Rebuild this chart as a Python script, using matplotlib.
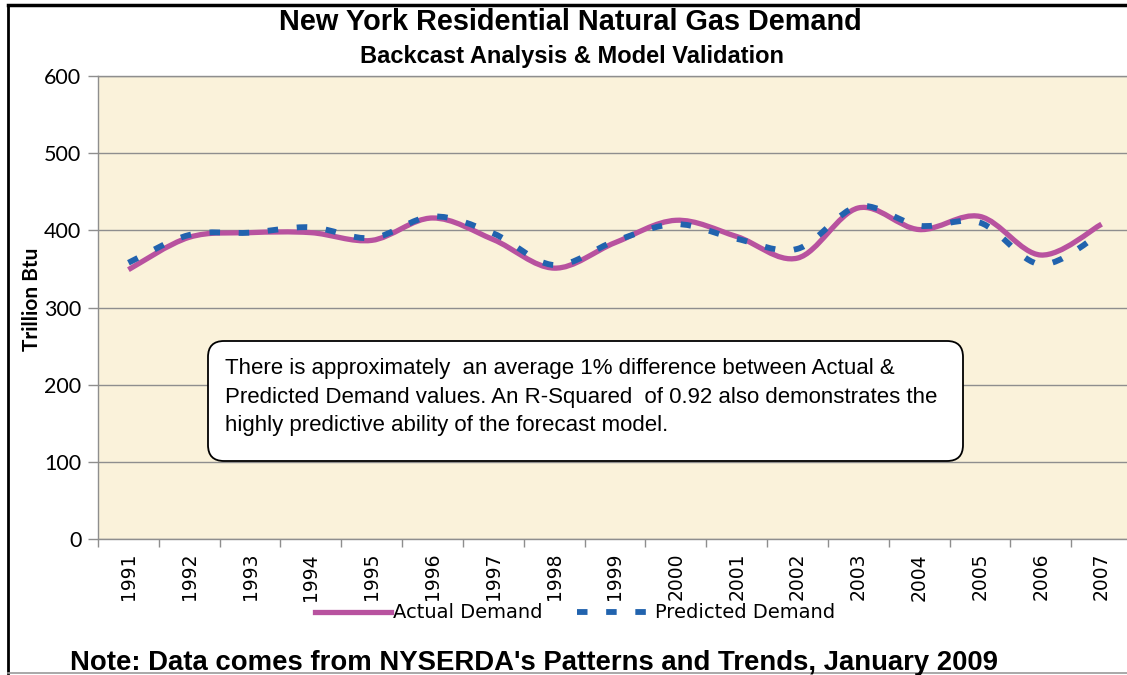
import numpy as np
import matplotlib
matplotlib.use('Agg')
import matplotlib.pyplot as plt
from matplotlib.path import Path
from matplotlib.patches import PathPatch, FancyBboxPatch
from matplotlib.lines import Line2D
from matplotlib.transforms import Affine2D

years = ['1991', '1992', '1993', '1994', '1995', '1996', '1997', '1998', '1999',
         '2000', '2001', '2002', '2003', '2004', '2005', '2006', '2007']
actual = [349, 391, 397, 397, 387, 416, 388, 351, 384, 413, 392, 364, 429, 401, 418, 368, 408]
predicted = [358, 394, 397, 404, 390, 418, 396, 355, 386, 408, 389, 376, 431, 406, 410, 356, 397]

note_lines = ['There is approximately  an average 1% difference between Actual &',
              'Predicted Demand values. An R-Squared  of 0.92 also demonstrates the',
              'highly predictive ability of the forecast model.']

actual_color = '#B8529F'
pred_color = '#2163AE'
bg_color = '#FAF2DA'
grid_color = '#8E8E8E'

W, H = 1127, 675
fig = plt.figure(figsize=(W / 100, H / 100), dpi=100)
# pixel coords with origin at top-left
px = Affine2D().scale(1 / W, -1 / H).translate(0, 1) + fig.transFigure

ax = fig.add_axes([98 / W, 136 / H, 1034 / W, 463 / H])
ax.set_facecolor(bg_color)


def smooth_path(values):
    # Excel-style smoothed line: cubic bezier through the points
    pts = np.column_stack([np.arange(len(values)), values]).astype(float)
    verts = [pts[0]]
    codes = [Path.MOVETO]
    n = len(pts)
    for i in range(n - 1):
        p0 = pts[max(i - 1, 0)]
        p1 = pts[i]
        p2 = pts[i + 1]
        p3 = pts[min(i + 2, n - 1)]
        verts += [p1 + (p2 - p0) / 6, p2 - (p3 - p1) / 6, p2]
        codes += [Path.CURVE4] * 3
    return Path(verts, codes)


ax.add_patch(PathPatch(smooth_path(actual), fill=False, edgecolor=actual_color,
                       lw=3.8, capstyle='butt', joinstyle='round', zorder=3))
ax.add_patch(PathPatch(smooth_path(predicted), fill=False, edgecolor=pred_color,
                       lw=4.2, linestyle=(0, (1.8, 3.2)), capstyle='butt', zorder=4))

ax.set_xlim(-0.5, len(years) - 0.5)
ax.set_ylim(0, 600)
ax.set_yticks(range(0, 601, 100))
ax.yaxis.grid(True, color=grid_color, lw=1.0)
ax.set_axisbelow(True)
for s in ['left', 'bottom', 'top']:
    ax.spines[s].set_color(grid_color)
    ax.spines[s].set_linewidth(1.0)
ax.spines['right'].set_visible(False)
ax.tick_params(axis='y', length=7, color=grid_color, width=1, pad=5,
               labelsize=15.5, labelfontfamily='Lato')

ax.set_xticks(range(len(years)))
ax.set_xticklabels(years, rotation=90, fontsize=13.5, family='DejaVu Sans')
ax.set_xticks(np.arange(-0.5, len(years), 1), minor=True)
ax.tick_params(axis='x', which='major', length=0, pad=10)
ax.tick_params(axis='x', which='minor', length=6, color=grid_color, width=1)

ax.set_ylabel('Trillion Btu', fontsize=15, fontweight='bold', family='Lato')
ax.yaxis.set_label_coords(-0.054, 0.517)

fig.text(570, 30, 'New York Residential Natural Gas Demand', transform=px,
         ha='center', va='baseline', fontsize=20.8, fontweight='bold', family='Liberation Sans')
fig.text(572, 63, 'Backcast Analysis & Model Validation', transform=px,
         ha='center', va='baseline', fontsize=17, fontweight='bold', family='Liberation Sans')

box = FancyBboxPatch((208, 341), 755, 120, boxstyle='round,pad=0,rounding_size=16',
                     transform=px, facecolor='white', edgecolor='black', lw=1.3, zorder=5)
fig.add_artist(box)
for k, line in enumerate(note_lines):
    fig.text(225, 374 + 28.5 * k, line, transform=px, ha='left', va='baseline',
             fontsize=16, family='Liberation Sans', zorder=6)

handles = [Line2D([], [], color=actual_color, lw=3.8),
           Line2D([], [], color=pred_color, lw=4.2, linestyle=(0, (1.8, 3.2)))]
fig.legend(handles, ['Actual Demand', 'Predicted Demand'], loc='center',
           bbox_to_anchor=(575 / W, 1 - 613 / H), ncol=2, frameon=False,
           prop={'family': 'DejaVu Sans', 'size': 14}, handlelength=3.9,
           handletextpad=0.1, columnspacing=1.8, borderpad=0)

fig.text(70, 670, "Note: Data comes from NYSERDA's Patterns and Trends, January 2009",
         transform=px, ha='left', va='baseline', fontsize=19.8, fontweight='bold',
         family='Liberation Sans')

# outer frame
fig.add_artist(Line2D([8, 8], [5, 673], transform=px, color='black', lw=2))
fig.add_artist(Line2D([8, W], [5, 5], transform=px, color='black', lw=2.5))
fig.add_artist(Line2D([8, W], [673, 673], transform=px, color='#9a9a9a', lw=1.2))

fig.savefig('out.png', dpi=100)
